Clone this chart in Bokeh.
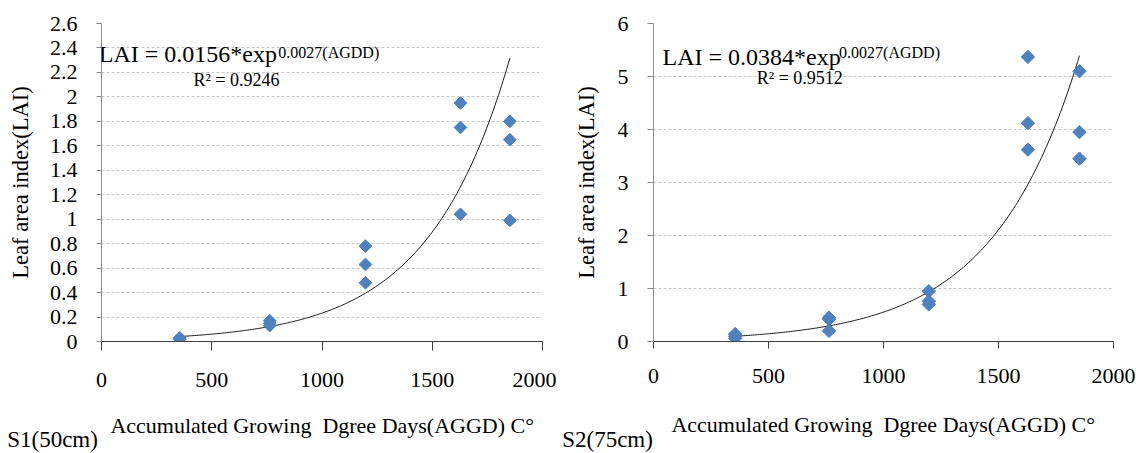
import numpy as np
from bokeh.plotting import figure
from bokeh.layouts import row, column
from bokeh.models import Label, FixedTicker, Range1d
from bokeh.embed import file_html
from bokeh.resources import INLINE

# ---- data ----
gdd_levels = [355, 763, 1197, 1628, 1852]
s1_lai = [[0.03, 0.02, 0.02], [0.17, 0.15, 0.13], [0.78, 0.63, 0.48],
          [1.95, 1.75, 1.04], [1.80, 1.65, 0.99]]
s2_lai = [[0.14, 0.10, 0.06], [0.45, 0.42, 0.20], [0.95, 0.76, 0.70],
          [5.37, 4.12, 3.62], [5.10, 3.95, 3.45]]
s1_trend = (0.0156, 0.0027)
s2_trend = (0.0384, 0.00267)
s1_yticks = [0, 0.2, 0.4, 0.6, 0.8, 1, 1.2, 1.4, 1.6, 1.8, 2, 2.2, 2.4, 2.6]
s1_ylabels = ["0", "0.2", "0.4", "0.6", "0.8", "1", "1.2", "1.4", "1.6", "1.8", "2", "2.2", "2.4", "2.6"]
s2_yticks = [0, 1, 2, 3, 4, 5, 6]
s2_ylabels = ["0", "1", "2", "3", "4", "5", "6"]
xticks = [0, 500, 1000, 1500, 2000]
xlabels = ["0", "500", "1000", "1500", "2000"]
s1_eq = ("LAI = 0.0156*exp", "0.0027(AGDD)", "R\u00b2 = 0.9246")
s2_eq = ("LAI = 0.0384*exp", "0.0027(AGDD)", "R\u00b2 = 0.9512")
x_title = "Accumulated Growing  Dgree Days(AGGD) C\u00b0"
y_title = "Leaf area index(LAI)"
panel_names = ["S1(50cm)", "S2(75cm)"]

FONT = "'Liberation Serif', 'Times New Roman', serif"
BLUE = "#4F81BD"
TOP_H = 410
STRIP_H = 43


def make_panel(lai, trend, yticks, ylabels, ymax, eq, width, borders, cfg, pos):
    bl, br, bt, bb = borders
    p = figure(width=width, height=TOP_H, x_range=Range1d(0, 2000), y_range=Range1d(0, ymax),
               output_backend="svg", toolbar_location=None,
               min_border_left=bl, min_border_right=br, min_border_top=bt, min_border_bottom=bb)
    p.outline_line_color = None
    p.background_fill_color = "white"
    p.border_fill_color = "white"
    p.xgrid.grid_line_color = None
    p.ygrid.grid_line_color = "#C8C8C8"
    p.ygrid.grid_line_dash = "3 2"
    p.ygrid.ticker = FixedTicker(ticks=yticks)

    xa = p.xaxis[0]
    xa.ticker = FixedTicker(ticks=xticks)
    xa.major_label_overrides = dict(zip(xticks, xlabels))
    xa.major_tick_in = 0
    xa.major_tick_out = cfg["xtick"]
    xa.minor_tick_line_color = None
    xa.axis_line_color = "#404040"
    xa.major_tick_line_color = "#404040"
    xa.major_label_text_font = FONT
    xa.major_label_text_font_size = "22px"
    xa.major_label_text_color = "black"
    xa.major_label_standoff = cfg["xlab"]

    ya = p.yaxis[0]
    ya.ticker = FixedTicker(ticks=yticks)
    ya.major_label_overrides = dict(zip(yticks, ylabels))
    ya.major_tick_in = 0
    ya.major_tick_out = cfg["ytick"]
    ya.minor_tick_line_color = None
    ya.axis_line_color = "#8C8C8C"
    ya.major_tick_line_color = "#8C8C8C"
    ya.major_label_text_font = FONT
    ya.major_label_text_font_size = "22px"
    ya.major_label_text_color = "black"
    ya.major_label_standoff = cfg["ylab"]
    ya.axis_label = y_title
    ya.axis_label_text_font = FONT
    ya.axis_label_text_font_style = "normal"
    ya.axis_label_text_font_size = "22.5px"
    ya.axis_label_text_color = "black"
    ya.axis_label_standoff = cfg["ytitle"]

    # trend line
    a, b = trend
    xs = np.linspace(min(gdd_levels), max(gdd_levels), 200)
    p.line(xs, a * np.exp(b * xs), line_color="#1a1a1a", line_width=1)

    # points
    px, py = [], []
    for g, vals in zip(gdd_levels, lai):
        for v in vals:
            px.append(g)
            py.append(v)
    p.scatter(px, py, marker="square", angle=np.pi / 4, size=cfg["msize"],
              fill_color=BLUE, line_color=BLUE)

    (eqx, eqy), (supx, supy), (rx, ry) = pos
    p.add_layout(Label(x=eqx, y=eqy, text=eq[0], text_font=FONT, text_font_size="24px",
                       text_color="black", text_baseline="alphabetic"))
    p.add_layout(Label(x=supx, y=supy, text=eq[1], text_font=FONT, text_font_size="16px",
                       text_color="black", text_baseline="alphabetic"))
    p.add_layout(Label(x=rx, y=ry, text=eq[2], text_font=FONT, text_font_size="18px",
                       text_color="black", text_baseline="alphabetic"))
    return p


cfg1 = dict(xtick=9, xlab=22, ytick=5, ylab=19, ytitle=14, msize=9)
cfg2 = dict(xtick=7, xlab=20, ytick=6, ylab=19, ytitle=16, msize=9.5)

p1 = make_panel(s1_lai, s1_trend, s1_yticks, s1_ylabels, 2.6, s1_eq,
                556, (101, 14, 23, 69), cfg1,
                [(-12, 2.347), (802, 2.361), (417, 2.135)])
p2 = make_panel(s2_lai, s2_trend, s2_yticks, s2_ylabels, 6, s2_eq,
                580, (97, 23, 23, 66), cfg2,
                [(39, 5.373), (807, 5.453), (449, 4.981)])

# bottom strip holding the x-axis titles and panel names (page-pixel coordinates)
strip = figure(width=1136, height=STRIP_H, x_range=Range1d(0, 1136),
               y_range=Range1d(TOP_H + STRIP_H, TOP_H),
               x_axis_type=None, y_axis_type=None,
               output_backend="svg", toolbar_location=None,
               min_border_left=0, min_border_right=0, min_border_top=0, min_border_bottom=0)
strip.outline_line_color = None
strip.xgrid.grid_line_color = None
strip.ygrid.grid_line_color = None
title_txt = x_title.replace("  ", "\u00a0 ")
for cx, by in [(321.7, 424.7), (882.7, 423.5)]:
    strip.add_layout(Label(x=cx, y=by, text=title_txt, text_font=FONT, text_font_size="22px",
                           text_color="black", text_baseline="alphabetic", text_align="center"))
for (nx, ny), nm in zip([(6.7, 438.5), (561.7, 439.3)], panel_names):
    strip.add_layout(Label(x=nx, y=ny, text=nm, text_font=FONT, text_font_size="23px",
                           text_color="black", text_baseline="alphabetic", text_align="left"))

layout = column(row(p1, p2), strip)
open("out.html", "w").write(file_html(layout, INLINE))
